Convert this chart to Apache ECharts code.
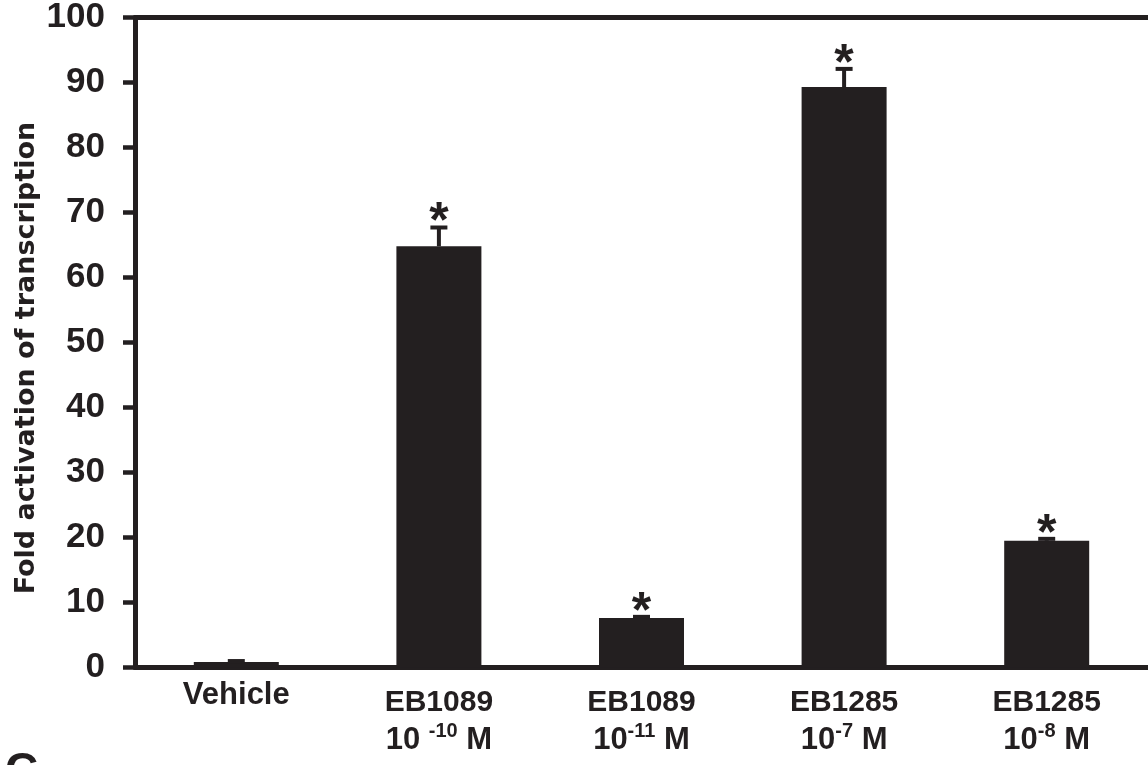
<!DOCTYPE html>
<html>
<head>
<meta charset="utf-8">
<script src="https://cdn.jsdelivr.net/npm/echarts@6/dist/echarts.min.js"></script>
<style>
html,body{margin:0;padding:0;background:#fff;}
#chart{width:1148px;height:765px;}
</style>
</head>
<body>
<div id="chart"></div>
<script>
// ---- data ----
const categories = ['Vehicle', 'EB1089 10-10 M', 'EB1089 10-11 M', 'EB1285 10-7 M', 'EB1285 10-8 M'];
const compoundNames = ['Vehicle', 'EB1089', 'EB1089', 'EB1285', 'EB1285'];
const concBase = ['', '10 ', '10', '10', '10'];
const concExp = ['', '-10', '-11', '-7', '-8'];
const foldValues = [0.85, 64.8, 7.6, 89.3, 19.5];
const errValues = [0.45, 3.2, 0.5, 3.1, 0.6];
const significant = [false, true, true, true, true];
const yTicks = [0, 10, 20, 30, 40, 50, 60, 70, 80, 90, 100];
const yTitle = 'Fold activation of transcription';
const panelLetter = 'C';

// ---- chart ----
const INK = '#231f20';
const FONT = '"Liberation Sans", Arial, Helvetica';
const chart = echarts.init(document.getElementById('chart'), null, {renderer: 'canvas'});

const errData = foldValues.map((v, i) => [i, v, errValues[i], significant[i] ? 1 : 0]);

const option = {
  backgroundColor: '#ffffff',
  animation: false,
  grid: {left: 135, right: -4, top: 17.5, bottom: 97.5, containLabel: false},
  xAxis: [
    {
      type: 'category',
      data: categories,
      position: 'bottom',
      axisLine: {show: true, lineStyle: {color: INK, width: 5}},
      axisTick: {show: false},
      axisLabel: {
        show: true,
        interval: 0,
        margin: 16,
        verticalAlign: 'top',
        color: INK,
        formatter: function (value, index) {
          if (!concExp[index]) {
            return '{v|' + compoundNames[index] + '}';
          }
          return '{a|' + compoundNames[index] + '}\n{b|' + concBase[index] + '}{s|' + concExp[index] + '}{b| M}';
        },
        rich: {
          v: {fontFamily: FONT, fontWeight: 'bold', fontSize: 31, lineHeight: 24, color: INK},
          a: {fontFamily: FONT, fontWeight: 'bold', fontSize: 30, lineHeight: 38, color: INK},
          b: {fontFamily: FONT, fontWeight: 'bold', fontSize: 31, lineHeight: 38, color: INK},
          s: {fontFamily: FONT, fontWeight: 'bold', fontSize: 20, lineHeight: 18, verticalAlign: 'top', color: INK}
        }
      },
      splitLine: {show: false}
    },
    {
      type: 'category',
      data: categories,
      position: 'top',
      axisLine: {show: true, lineStyle: {color: INK, width: 5}},
      axisTick: {show: false},
      axisLabel: {show: false},
      splitLine: {show: false}
    }
  ],
  yAxis: {
    type: 'value',
    min: yTicks[0],
    max: yTicks[yTicks.length - 1],
    interval: yTicks[1] - yTicks[0],
    axisLine: {show: true, lineStyle: {color: INK, width: 5}},
    axisTick: {show: true, inside: false, length: 12, lineStyle: {color: INK, width: 4.5}},
    axisLabel: {
      show: true,
      margin: 30,
      color: INK,
      fontFamily: FONT,
      fontWeight: 'bold',
      fontSize: 35
    },
    splitLine: {show: false}
  },
  series: [
    {
      type: 'bar',
      data: foldValues,
      barWidth: 85,
      itemStyle: {color: INK},
      z: 2
    },
    {
      type: 'custom',
      data: errData,
      z: 3,
      renderItem: function (params, api) {
        const i = api.value(0);
        const v = api.value(1);
        const e = api.value(2);
        const sig = api.value(3);
        const base = api.coord([i, v]);
        const top = api.coord([i, v + e]);
        const x = base[0];
        const children = [
          {type: 'line', shape: {x1: x, y1: base[1], x2: x, y2: top[1] + 1.5}, style: {stroke: INK, lineWidth: 4}},
          {type: 'line', shape: {x1: x - 8.5, y1: top[1] + 2, x2: x + 8.5, y2: top[1] + 2}, style: {stroke: INK, lineWidth: 4}}
        ];
        if (sig) {
          children.push({
            type: 'text',
            style: {
              text: '*', x: x, y: top[1] - 2,
              align: 'center', verticalAlign: 'middle',
              font: 'bold 50px "Liberation Sans", Arial', fill: INK
            }
          });
        }
        return {type: 'group', children: children};
      }
    }
  ],
  graphic: [
    {
      type: 'text',
      x: 27, y: 358,
      rotation: Math.PI / 2,
      style: {
        text: yTitle,
        align: 'center', verticalAlign: 'middle',
        font: 'bold 27px "DejaVu Sans"', fill: INK
      }
    },
    {
      type: 'text',
      left: 5, top: 749,
      style: {
        text: panelLetter,
        font: 'bold 46px "Liberation Sans", Arial', fill: INK
      }
    }
  ]
};
chart.setOption(option);
</script>
</body>
</html>
